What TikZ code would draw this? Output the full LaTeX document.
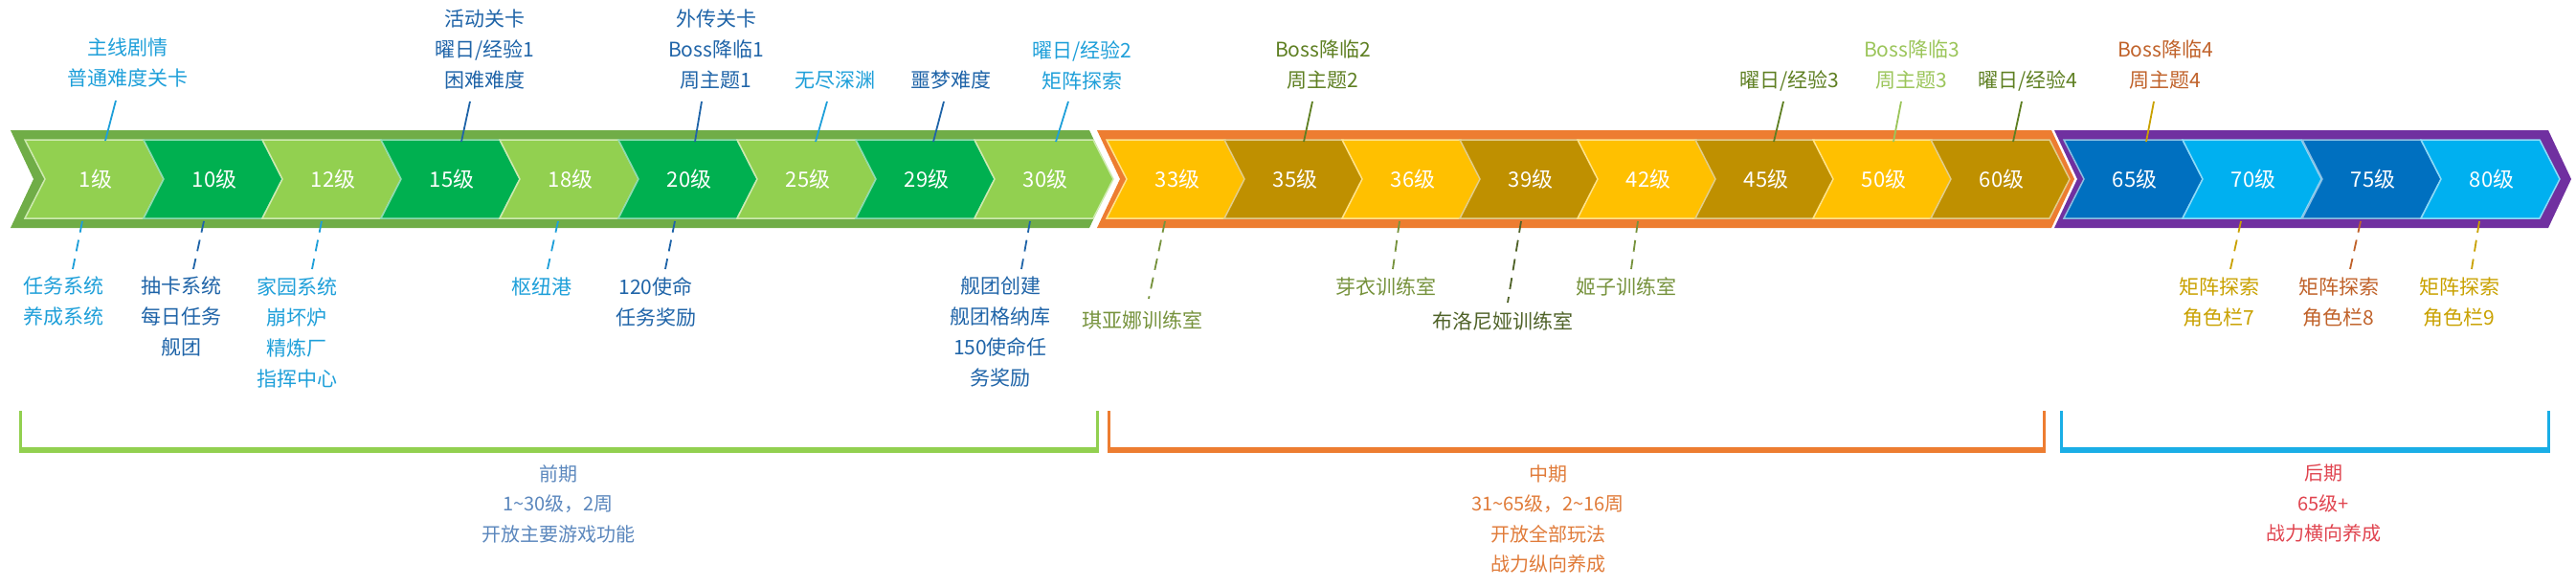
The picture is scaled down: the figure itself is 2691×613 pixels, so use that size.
\documentclass[tikz,border=0pt]{standalone}
\usepackage{fontspec}
\setmainfont{Noto Sans CJK SC}
\definecolor{lblue}{HTML}{1E9FD9}
\definecolor{dblue}{HTML}{1F64A8}
\definecolor{olive}{HTML}{5E7F22}
\definecolor{lgreen}{HTML}{9BC55A}
\definecolor{brown}{HTML}{C0622A}
\definecolor{gold}{HTML}{C9A100}
\definecolor{room}{HTML}{76923C}
\definecolor{droom}{HTML}{4F6228}
\definecolor{gA}{HTML}{92D050}
\definecolor{gB}{HTML}{00B050}
\definecolor{oA}{HTML}{FFC000}
\definecolor{oB}{HTML}{BF9000}
\definecolor{bA}{HTML}{0070C0}
\definecolor{bB}{HTML}{00B0F0}
\definecolor{gOut}{HTML}{70AD47}
\definecolor{oOut}{HTML}{ED7D31}
\definecolor{pOut}{HTML}{7030A0}
\definecolor{bOut}{HTML}{1AAEE6}
\definecolor{phA}{HTML}{5B87BD}
\definecolor{phB}{HTML}{E07B39}
\definecolor{phC}{HTML}{E0444F}
\newcommand\mychev[4]{%
 \fill[#2, draw=white!55!#2, line width=1.5pt] (#1,146) -- ++(124,0) -- ++(21,41) -- ++(-21,41) -- ++(-124,0) -- ++(21,-41) -- cycle;
 \node[lvl] (#4) at ({#1+74},187) {#3};}
\begin{document}
\begin{tikzpicture}[x=1pt,y=-1pt,
 lvl/.style={text=white,font=\fontsize{22}{26}\selectfont,inner sep=0pt},
 lbl/.style={align=center,font=\fontsize{21}{32}\selectfont,inner sep=0pt},
 conn/.style={line width=1.8pt},
 dconn/.style={line width=1.8pt,dash pattern=on 12pt off 8pt},
 phase/.style={align=center,font=\fontsize{20}{31.5}\selectfont,inner sep=0pt}]
\useasboundingbox (0,0) rectangle (2691,613);
% outer bands
\fill[gOut] (11,136) -- (1138,136) -- (1162,187) -- (1138,238) -- (11,238) -- (35,187) -- cycle;
\fill[oOut] (1146,136) -- (2143,136) -- (2167,187) -- (2143,238) -- (1146,238) -- (1170,187) -- cycle;
\fill[pOut] (2146,136) -- (2662,136) -- (2686,187) -- (2662,238) -- (2146,238) -- (2170,187) -- cycle;
% chevrons
\mychev{26}{gA}{1级}{c1}
\mychev{150}{gB}{10级}{c10}
\mychev{274}{gA}{12级}{c12}
\mychev{398}{gB}{15级}{c15}
\mychev{522}{gA}{18级}{c18}
\mychev{646}{gB}{20级}{c20}
\mychev{770}{gA}{25级}{c25}
\mychev{894}{gB}{29级}{c29}
\mychev{1018}{gA}{30级}{c30}
\mychev{1156}{oA}{33级}{c33}
\mychev{1279}{oB}{35级}{c35}
\mychev{1402}{oA}{36级}{c36}
\mychev{1525}{oB}{39级}{c39}
\mychev{1648}{oA}{42级}{c42}
\mychev{1771}{oB}{45级}{c45}
\mychev{1894}{oA}{50级}{c50}
\mychev{2017}{oB}{60级}{c60}
\mychev{2156}{bA}{65级}{c65}
\mychev{2280}{bB}{70级}{c70}
\mychev{2405}{bA}{75级}{c75}
\mychev{2529}{bB}{80级}{c80}
% top labels
\node[lbl,text=lblue] (t1) at (133,66) {主线剧情\\普通难度关卡};
\draw[conn,lblue] (121,105) coordinate (t1a) -- (110,147) coordinate (t1b);
\node[lbl,text=dblue] (t2) at (506,52) {活动关卡\\曜日/经验1\\困难难度};
\draw[conn,dblue] (491,106) coordinate (t2a) -- (482,148) coordinate (t2b);
\node[lbl,text=dblue] (t3) at (748,52) {外传关卡\\Boss降临1\\周主题1};
\draw[conn,dblue] (733,106) coordinate (t3a) -- (726,148) coordinate (t3b);
\node[lbl,text=lblue] (t4) at (872,84) {无尽深渊};
\draw[conn,lblue] (864,106) coordinate (t4a) -- (852,148) coordinate (t4b);
\node[lbl,text=dblue] (t5) at (993,84) {噩梦难度};
\draw[conn,dblue] (986,106) coordinate (t5a) -- (975,148) coordinate (t5b);
\node[lbl,text=lblue] (t6) at (1130,68) {曜日/经验2\\矩阵探索};
\draw[conn,lblue] (1116,106) coordinate (t6a) -- (1103,148) coordinate (t6b);
\node[lbl,text=olive] (t7) at (1382,68) {Boss降临2\\周主题2};
\draw[conn,olive] (1371,106) coordinate (t7a) -- (1362,148) coordinate (t7b);
\node[lbl,text=olive] (t8) at (1869,84) {曜日/经验3};
\draw[conn,olive] (1863,106) coordinate (t8a) -- (1853,148) coordinate (t8b);
\node[lbl,text=lgreen] (t9) at (1997,68) {Boss降临3\\周主题3};
\draw[conn,lgreen] (1986,106) coordinate (t9a) -- (1978,148) coordinate (t9b);
\node[lbl,text=olive] (t10) at (2118,84) {曜日/经验4};
\draw[conn,olive] (2112,106) coordinate (t10a) -- (2103,148) coordinate (t10b);
\node[lbl,text=brown] (t11) at (2262,68) {Boss降临4\\周主题4};
\draw[conn,gold] (2250,106) coordinate (t11a) -- (2242,148) coordinate (t11b);
% bottom labels
\node[lbl,text=lblue] (b1) at (66,315) {任务系统\\养成系统};
\draw[dconn,lblue] (86,231) coordinate (b1a) -- (76,281) coordinate (b1b);
\node[lbl,text=dblue] (b2) at (189,331) {抽卡系统\\每日任务\\舰团};
\draw[dconn,dblue] (213,231) coordinate (b2a) -- (202,281) coordinate (b2b);
\node[lbl,text=lblue] (b3) at (310,347) {家园系统\\崩坏炉\\精炼厂\\指挥中心};
\draw[dconn,lblue] (336,231) coordinate (b3a) -- (326,281) coordinate (b3b);
\node[lbl,text=lblue] (b4) at (566,299) {枢纽港};
\draw[dconn,lblue] (583,231) coordinate (b4a) -- (572,281) coordinate (b4b);
\node[lbl,text=dblue] (b5) at (685,315) {120使命\\任务奖励};
\draw[dconn,dblue] (705,231) coordinate (b5a) -- (695,281) coordinate (b5b);
\node[lbl,text=dblue] (b6) at (1045,347) {舰团创建\\舰团格纳库\\150使命任\\务奖励};
\draw[dconn,dblue] (1076,231) coordinate (b6a) -- (1067,281) coordinate (b6b);
\node[lbl,text=room] (b7) at (1193,334) {琪亚娜训练室};
\draw[dconn,room] (1217,231) coordinate (b7a) -- (1200,312) coordinate (b7b);
\node[lbl,text=room] (b8) at (1448,299) {芽衣训练室};
\draw[dconn,room] (1462,231) coordinate (b8a) -- (1455,281) coordinate (b8b);
\node[lbl,text=droom] (b9) at (1570,335) {布洛尼娅训练室};
\draw[dconn,droom] (1589,231) coordinate (b9a) -- (1575,316) coordinate (b9b);
\node[lbl,text=room] (b10) at (1699,299) {姬子训练室};
\draw[dconn,room] (1711,231) coordinate (b10a) -- (1704,281) coordinate (b10b);
\node[lbl,text=gold] (b11) at (2318,316) {矩阵探索\\角色栏7};
\draw[dconn,gold] (2341,231) coordinate (b11a) -- (2330,281) coordinate (b11b);
\node[lbl,text=brown] (b12) at (2443,316) {矩阵探索\\角色栏8};
\draw[dconn,brown] (2466,231) coordinate (b12a) -- (2455,281) coordinate (b12b);
\node[lbl,text=gold] (b13) at (2569,316) {矩阵探索\\角色栏9};
\draw[dconn,gold] (2590,231) coordinate (b13a) -- (2582,281) coordinate (b13b);
% phase brackets
\draw[gA,line width=3pt] (21,429) -- (21,470) (1146,429) -- (1146,470);
\draw[gA,line width=6pt] (19.5,470) -- (1147.5,470);
\draw[oOut,line width=3pt] (1158,429) -- (1158,470) (2135,429) -- (2135,470);
\draw[oOut,line width=6pt] (1156.5,470) -- (2136.5,470);
\draw[bOut,line width=3pt] (2153,429) -- (2153,470) (2662,429) -- (2662,470);
\draw[bOut,line width=6pt] (2151.5,470) -- (2663.5,470);
\node[phase,text=phA] (p1) at (583,526) {前期\\1\textasciitilde30级，2周\\开放主要游戏功能};
\node[phase,text=phB] (p2) at (1617,542) {中期\\31\textasciitilde65级，2\textasciitilde16周\\开放全部玩法\\战力纵向养成};
\node[phase,text=phC] (p3) at (2427,526) {后期\\65级+\\战力横向养成};
\end{tikzpicture}
\end{document}
